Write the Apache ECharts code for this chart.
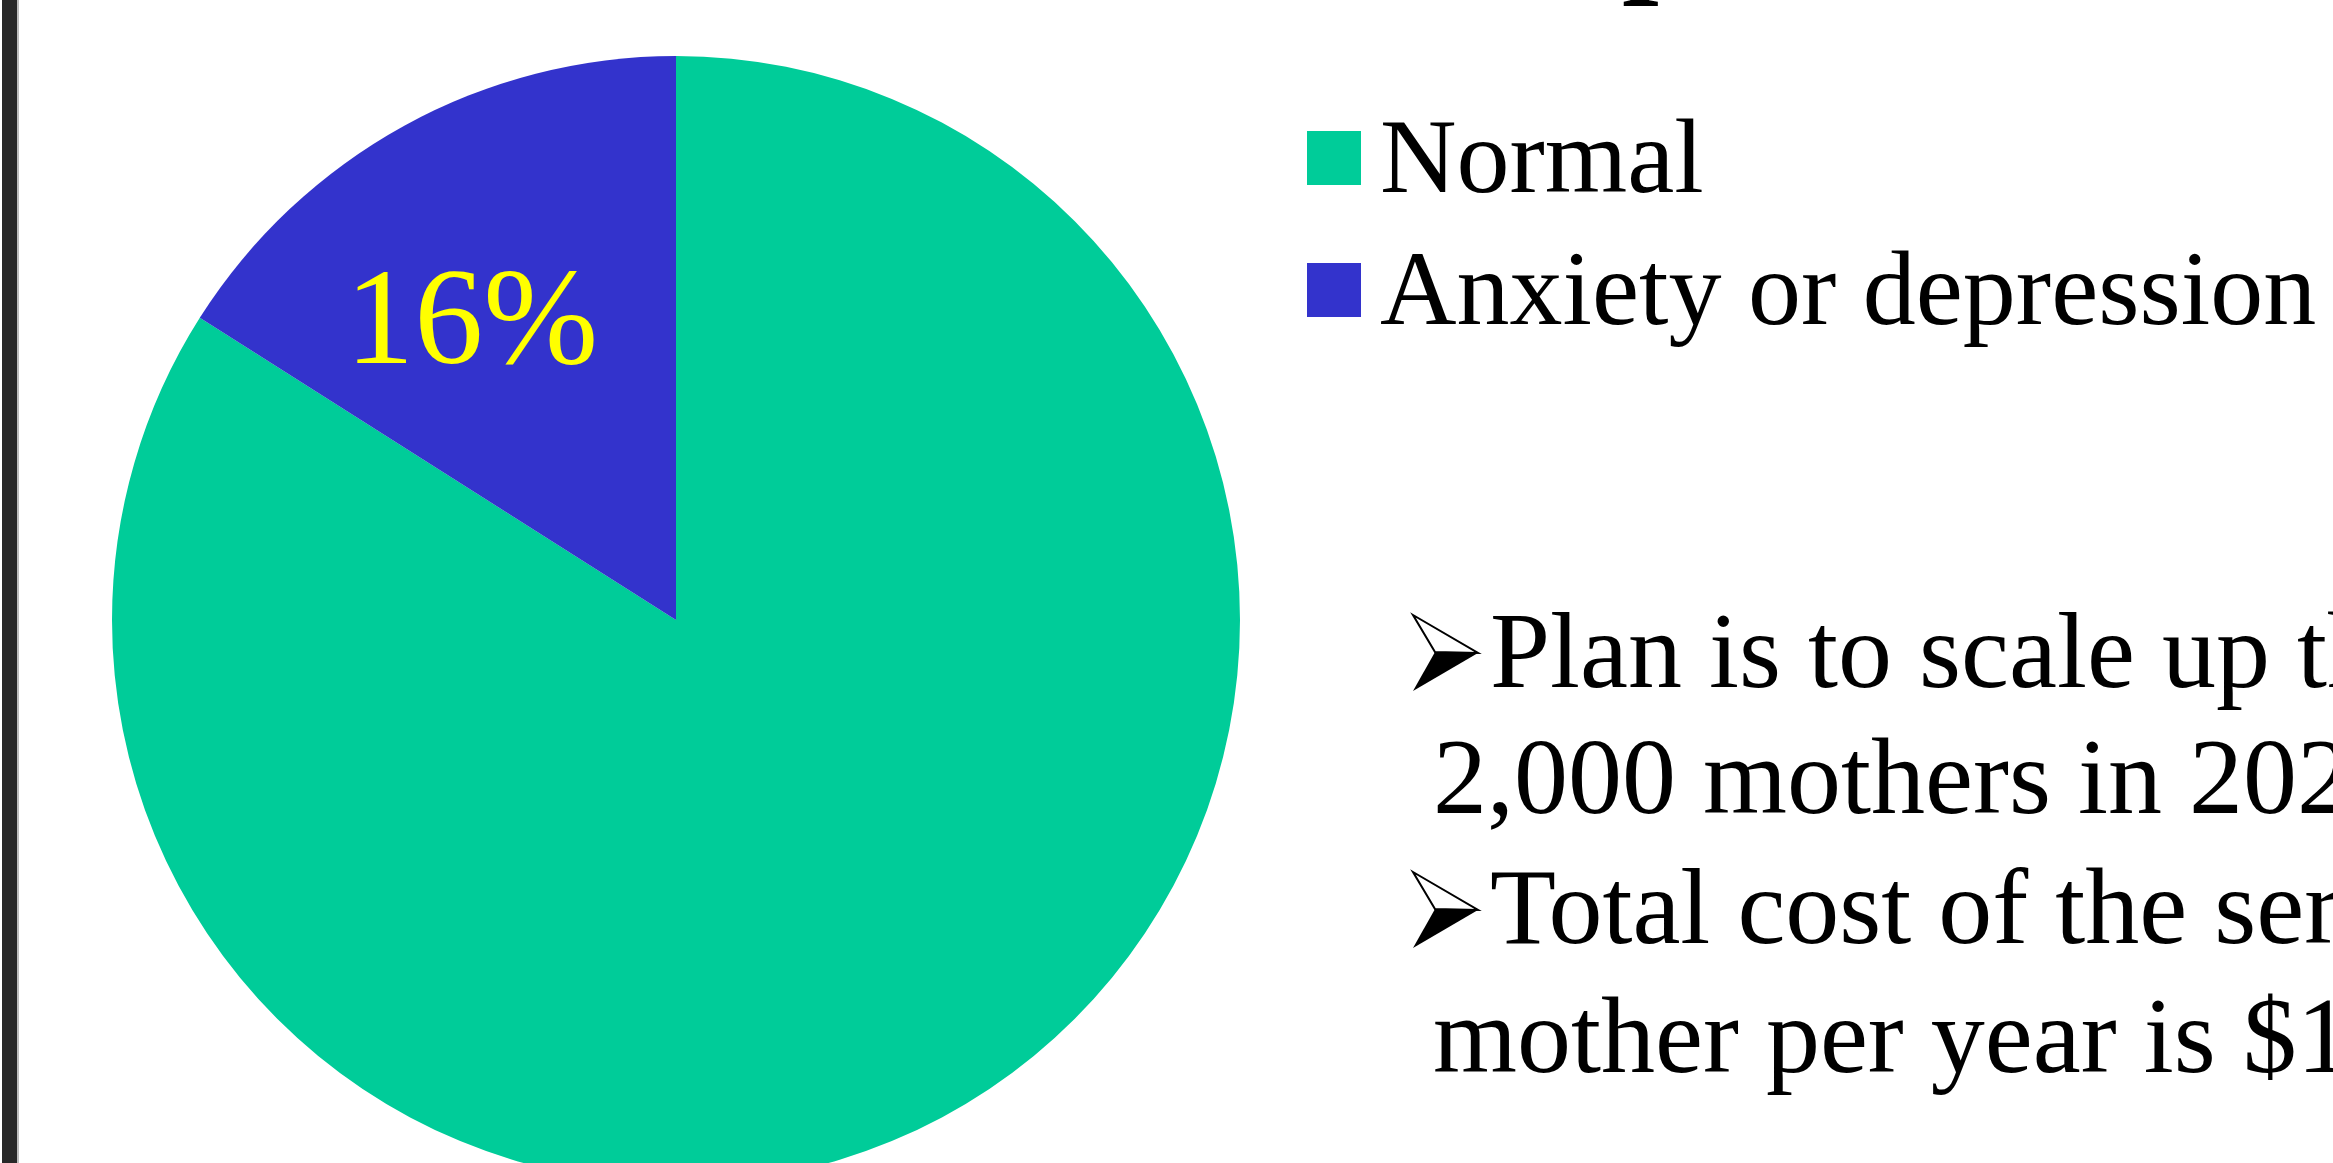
<!DOCTYPE html>
<html>
<head>
<meta charset="utf-8">
<script src="https://cdn.jsdelivr.net/npm/echarts@6/dist/echarts.min.js"></script>
<style>
  html, body { margin: 0; padding: 0; background: #ffffff; }
  #chart { width: 2333px; height: 1163px; }
</style>
</head>
<body>
<div id="chart"></div>
<script>
const categories = ['Normal', 'Anxiety or depression'];
const shares = [84, 16];
const sliceColors = ['#00CC99', '#3333CC'];
const bulletLines = [
  'Plan is to scale up th',
  '2,000 mothers in 202',
  'Total cost of the ser',
  'mother per year is $1'
];

const SERIF = "'Liberation Serif', 'Times New Roman', serif";

const chart = echarts.init(document.getElementById('chart'));

// bullet arrowhead: outlined upper half, filled lower half
function arrow(x, y) {
  return [
    {
      type: 'polygon',
      shape: { points: [[x, y], [x + 65, y + 38], [x + 22, y + 37]] },
      style: { fill: '#ffffff', stroke: '#000000', lineWidth: 2 }
    },
    {
      type: 'polygon',
      shape: { points: [[x + 22, y + 37], [x + 65, y + 38], [x, y + 76]] },
      style: { fill: '#000000' }
    }
  ];
}

function line(text, x, baseline) {
  return {
    type: 'text',
    style: {
      x: x,
      y: baseline - 33,
      text: text,
      font: '108px ' + SERIF,
      fill: '#000000',
      textVerticalAlign: 'middle'
    }
  };
}

const option = {
  backgroundColor: '#ffffff',
  animation: false,
  color: sliceColors,
  legend: {
    orient: 'vertical',
    left: 1302,
    top: 106,
    icon: 'rect',
    itemWidth: 54,
    itemHeight: 54,
    itemGap: 26,
    selectedMode: false,
    data: categories,
    formatter: '{t|{name}}',
    textStyle: {
      fontFamily: SERIF,
      fontSize: 106,
      color: '#000000',
      padding: [0, 0, 0, 14],
      rich: {
        t: {
          fontFamily: SERIF,
          fontSize: 106,
          color: '#000000',
          padding: [12, 0, 0, 0]
        }
      }
    }
  },
  graphic: [
    { type: 'rect', shape: { x: 2, y: 0, width: 15, height: 1163 }, style: { fill: '#282828' } },
    { type: 'rect', shape: { x: 17, y: 0, width: 2, height: 1163 }, style: { fill: '#bdbdbd' } },
    {
      type: 'text',
      style: {
        x: 1622,
        y: -56,
        text: 'p',
        font: 'bold 132px ' + SERIF,
        fill: '#000000',
        textVerticalAlign: 'middle'
      }
    },
    ...arrow(1413, 615),
    ...arrow(1413, 872),
    line(bulletLines[0], 1490, 692),
    line(bulletLines[1], 1433, 818),
    line(bulletLines[2], 1490, 948),
    line(bulletLines[3], 1433, 1077)
  ],
  series: [
    {
      type: 'pie',
      center: [676, 620],
      radius: 564,
      startAngle: 90,
      clockwise: true,
      avoidLabelOverlap: false,
      itemStyle: { borderWidth: 0 },
      emphasis: { disabled: true },
      labelLine: { show: false },
      label: {
        show: true,
        position: 'inside',
        formatter: (p) => (p.dataIndex === 1 ? p.value + '%' : ''),
        fontFamily: SERIF,
        fontSize: 138,
        color: '#FFFF00'
      },
      labelLayout: { dx: -67, dy: -43 },
      data: categories.map((name, i) => ({ name: name, value: shares[i] }))
    }
  ]
};

chart.setOption(option);
</script>
</body>
</html>
